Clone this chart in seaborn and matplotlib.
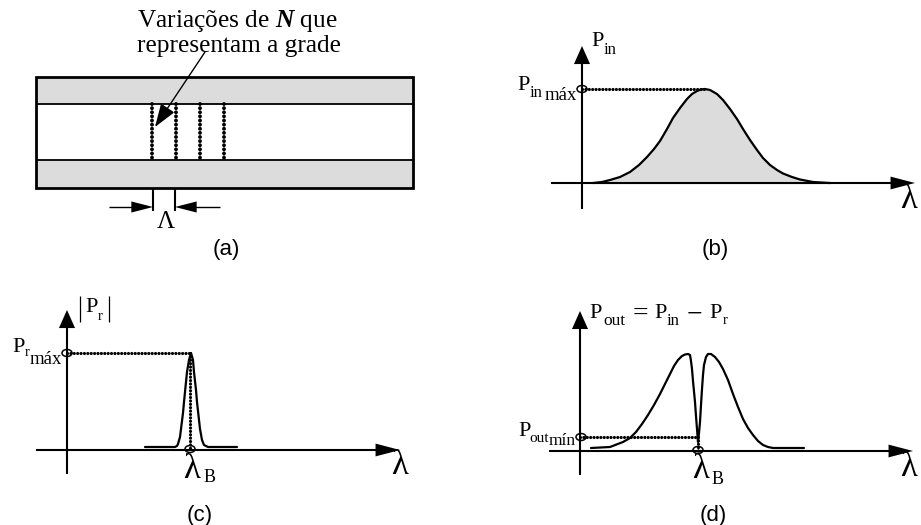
import matplotlib

matplotlib.use("Agg")
import matplotlib.pyplot as plt
import pandas as pd
import seaborn as sns
from matplotlib.patches import Ellipse, Rectangle

# panel (b): input spectrum, offsets from the axis origin
lam_in = [11, 20, 28, 38, 48, 57, 65, 72, 78, 85, 91, 98, 105, 110, 115, 119, 123, 128, 135, 141, 148, 155, 161, 168, 175, 181, 188, 195, 201, 210, 218, 231, 248]
pow_in = [0, 1, 3, 6, 11, 18, 26, 34, 42, 54, 65, 75, 84, 89, 92, 93.5, 94, 93, 89, 83, 74, 64, 54, 43, 33, 25, 18, 13, 9.5, 6, 3.5, 1, 0]

# panel (c): reflected spectrum
lam_r = [78, 108, 110, 111, 113, 114, 116, 117, 119, 120, 122, 124, 126, 127, 129, 130, 132, 133, 135, 137, 141, 170]
pow_r = [3, 3, 4, 6, 13, 21, 37, 48, 68, 78, 90, 97, 90, 78, 60, 48, 30, 21, 10, 5, 3, 3]

# panel (d): output spectrum
lam_out = [11, 30, 43, 50, 56, 62, 68, 74, 80, 85, 90, 94, 98, 102, 105, 108, 110, 111, 112, 113, 115, 116, 117, 118, 119, 120, 121, 122, 123, 124, 126, 128, 131, 135, 139, 143, 148, 153, 158, 163, 168, 173, 178, 183, 188, 193, 224]
pow_out = [3, 4, 9, 13, 19, 27, 36, 46, 57, 67, 77, 85, 91, 95, 96.5, 97, 96, 90, 82, 70, 49, 35, 22, 9, 18, 29, 46, 62, 76, 86, 94, 97, 97, 94, 89, 82, 71, 57, 44, 32, 23, 16, 10, 6, 4, 3, 3]

grating_x = [152, 176, 200, 224]

panel_labels = ["(a)", "(b)", "(c)", "(d)"]
panel_label_x = [226, 715, 200, 713]
panel_label_y = [249, 249, 515, 515]

sns.set_theme(style="white")
plt.rcParams["font.family"] = ["Liberation Serif", "DejaVu Serif"]
plt.rcParams["mathtext.fontset"] = "custom"
plt.rcParams["mathtext.rm"] = "Liberation Serif"
plt.rcParams["mathtext.it"] = "Liberation Serif:italic"
plt.rcParams["mathtext.bf"] = "Liberation Serif:bold"
plt.rcParams["mathtext.bfit"] = "Liberation Serif:italic:bold"

fig = plt.figure(figsize=(9.21, 5.25), dpi=100, facecolor="white")
ax = fig.add_axes([0, 0, 1, 1])
ax.set_xlim(0, 921)
ax.set_ylim(525, 0)
ax.axis("off")


def line(xs, ys, lw=1.5):
    ax.plot(xs, ys, color="black", lw=lw, solid_capstyle="butt")


def dots(xs, ys, lw=2.3):
    ax.plot(xs, ys, color="black", lw=lw, linestyle=(0, (0.01, 1.05)), dash_capstyle="round")


def arrow(x0, y0, x1, y1, lw=0, width=0.2, length=0.83):
    ax.annotate(
        "",
        xy=(x1, y1),
        xytext=(x0, y0),
        arrowprops=dict(
            arrowstyle="-|>,head_length={},head_width={}".format(length, width),
            color="black",
            lw=lw,
            shrinkA=0,
            shrinkB=0,
            mutation_scale=20,
        ),
    )


def label(x, y, s, size=16, ha="left"):
    ax.text(x, y, s, fontsize=size, ha=ha, va="center", color="black")


def circle(x, y, w=10, h=7):
    ax.add_patch(Ellipse((x, y), w, h, fill=False, ec="black", lw=1.1, zorder=5))


def curve(x0, y0, lam, power):
    df = pd.DataFrame({"x": [x0 + v for v in lam], "y": [y0 - v for v in power]})
    sns.lineplot(data=df, x="x", y="y", color="black", lw=1.6, sort=False, estimator=None, ax=ax)
    ax.set_xlim(0, 921)
    ax.set_ylim(525, 0)
    return df


def axes_cross(x0, y0, left, right, top, bottom):
    line([x0, x0], [bottom, top + 10])
    line([left, right - 10], [y0, y0])
    arrow(x0, top + 17, x0, top, width=0.29, length=0.65)
    arrow(right - 23, y0, right, y0, width=0.23, length=0.88)


# (a) waveguide with grating
ax.add_patch(Rectangle((36, 77), 377, 27, fc="#dcdcdc", ec="none"))
ax.add_patch(Rectangle((36, 160), 377, 28, fc="#dcdcdc", ec="none"))
ax.add_patch(Rectangle((36, 77), 377, 111, fill=False, ec="black", lw=2))
line([36, 413], [104, 104], lw=1.3)
line([36, 413], [160, 160], lw=1.3)
for gx in grating_x:
    dots([gx, gx], [104, 160], lw=2.8)
line([153, 153], [188, 211], lw=1.5)
line([175, 175], [188, 211], lw=1.5)
line([109, 135], [207, 207], lw=1)
line([220, 195], [207, 207], lw=1)
arrow(132, 207, 153, 207, width=0.2, length=0.78)
arrow(196, 207, 175, 207, width=0.2, length=0.78)
arrow(205, 52, 155, 127, lw=1, width=0.25, length=0.72)
label(237, 21, r"Variações de $\mathbfit{N}$ que", size=18.3, ha="center")
label(239, 46, "representam a grade", size=18.3, ha="center")
label(166, 222, "Λ", size=18, ha="center")

# (b) input spectrum
b = curve(582, 183, lam_in, pow_in)
ax.fill_between(b["x"], b["y"], 183, color="#dcdcdc", zorder=1)
axes_cross(582, 183, 551, 915, 46, 209)
dots([582, 705], [89, 89])
circle(582, 89)
label(517, 86, "P")
label(530, 93, "in", size=12)
label(545, 96, "máx", size=13.5)
label(591, 41, "P")
label(604, 50, "in", size=12)
label(900, 200, "λ", size=25)

# (c) reflected spectrum
curve(67, 450, lam_r, pow_r)
axes_cross(67, 450, 36, 400, 310, 474)
dots([67, 190], [353, 353])
dots([190, 190], [353, 450])
circle(67, 353)
circle(190, 449)
line([80, 80], [296, 322], lw=0.9)
line([109, 109], [296, 322], lw=0.9)
label(85, 308, "P")
label(98, 317, "r", size=10.5)
label(12, 348, "P")
label(25, 352, "r", size=10.5)
label(30, 359, "máx", size=13.5)
label(183, 469, "λ", size=25)
label(204, 478, "B", size=13)
label(391, 466, "λ", size=25)

# (d) output spectrum
curve(580, 451, lam_out, pow_out)
axes_cross(580, 451, 549, 913, 311, 475)
dots([580, 698], [437, 437])
dots([698, 698], [437, 451])
circle(581, 437)
circle(698, 450)
label(589, 314, "P")
label(603, 321, "out", size=12.5)
label(633, 314, "=", size=20)
label(654, 314, "P")
label(667, 321, "in", size=12)
label(687, 315, "−", size=20)
label(709, 314, "P")
label(723, 321, "r", size=10.5)
label(518, 431, "P")
label(529, 439, "out", size=11)
label(549, 441, "mín", size=12.5)
label(692, 469, "λ", size=25)
label(712, 479, "B", size=13)
label(900, 467, "λ", size=25)

for s, px, py in zip(panel_labels, panel_label_x, panel_label_y):
    ax.text(px, py, s, fontsize=16, family="Liberation Sans", ha="center", va="center", color="black")

ax.set_xlabel("")
ax.set_ylabel("")
fig.savefig("out.png", dpi=100)
